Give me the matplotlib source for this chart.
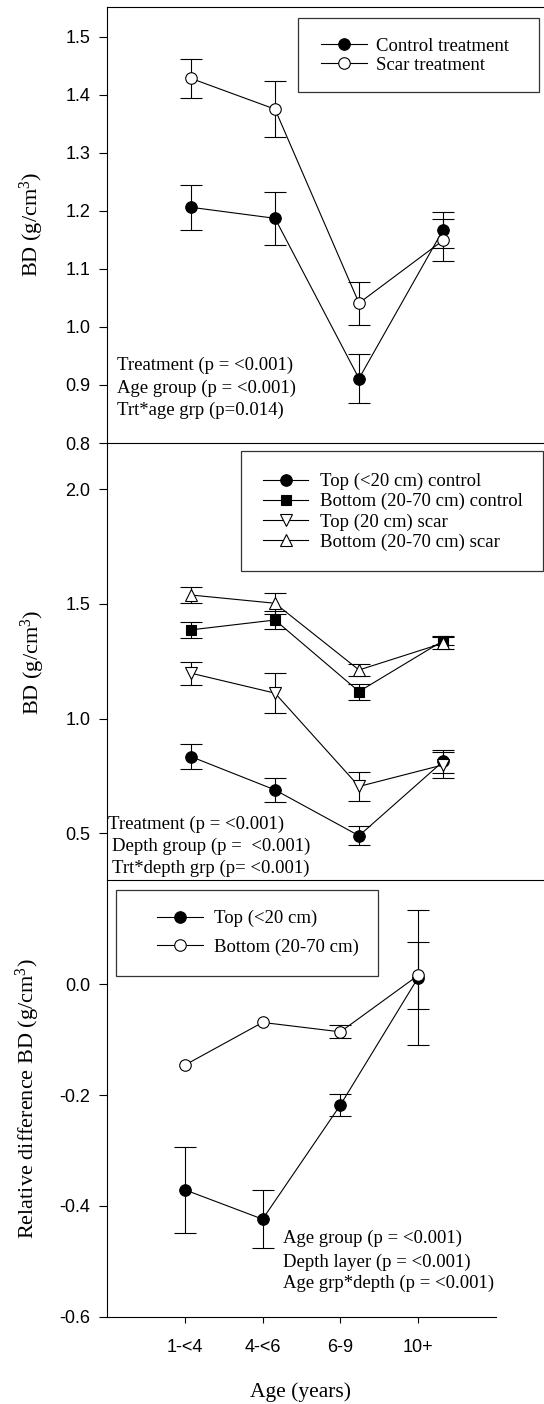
import matplotlib
matplotlib.use('Agg')
import matplotlib.pyplot as plt
import numpy as np
from matplotlib.patches import Rectangle

# dados
ages = ['1-<4', '4-<6', '6-9', '10+']
x = [1, 2, 3, 4]

control_bd = [1.206, 1.187, 0.911, 1.167]
control_se = [0.039, 0.046, 0.042, 0.031]
scar_bd = [1.428, 1.375, 1.041, 1.149]
scar_se = [0.034, 0.048, 0.037, 0.036]

top_control = [0.834, 0.689, 0.489, 0.813]
top_control_se = [0.056, 0.052, 0.042, 0.050]
bottom_control = [1.387, 1.430, 1.118, 1.339]
bottom_control_se = [0.035, 0.040, 0.035, 0.020]
top_scar = [1.198, 1.111, 0.704, 0.798]
top_scar_se = [0.050, 0.088, 0.065, 0.057]
bottom_scar = [1.539, 1.503, 1.212, 1.329]
bottom_scar_se = [0.035, 0.045, 0.025, 0.025]

rel_top = [-0.371, -0.424, -0.218, 0.012]
rel_top_se = [0.078, 0.052, 0.020, 0.122]
rel_bottom = [-0.146, -0.069, -0.086, 0.016]
rel_bottom_se = [0.0, 0.0, 0.012, 0.060]

W, H = 544, 1404
SERIF = 'Liberation Serif'
SANS = 'Liberation Sans'

plt.rcParams['mathtext.fontset'] = 'custom'
plt.rcParams['mathtext.rm'] = SERIF
plt.rcParams['mathtext.it'] = SERIF + ':italic'
plt.rcParams['mathtext.default'] = 'rm'


def fx(px):
    return px / W


def fy(py):
    return 1 - py / H


def rect(left, top, right, bottom):
    return [fx(left), fy(bottom), fx(right) - fx(left), fy(top) - fy(bottom)]


def serie(ax, y, err, marker, face, ms=8.3):
    # erro zero: sem barra nem cap
    err = np.where(np.array(err) > 0, err, np.nan)
    c = ax.errorbar(x, y, yerr=err, fmt='-', marker=marker, color='black',
                    mfc=face, mec='black', ms=ms, mew=0.8, lw=0.8,
                    elinewidth=0.8, capsize=8, capthick=0.8, clip_on=False)
    return c[0]


def estilo(ax):
    ax.set_facecolor('none')
    ax.tick_params(axis='y', direction='out', length=5.8, width=0.8, pad=6,
                   labelsize=13)
    for lab in ax.get_yticklabels():
        lab.set_fontfamily(SANS)
    ax.spines['right'].set_visible(False)
    for s in ax.spines.values():
        s.set_linewidth(0.8)


def caixa(fig, left, top, right, bottom):
    r = Rectangle((fx(left), fy(bottom)), fx(right) - fx(left), fy(top) - fy(bottom),
                  transform=fig.transFigure, fill=False, edgecolor='#333333', lw=0.9)
    fig.add_artist(r)


fig = plt.figure(figsize=(W / 100, H / 100), dpi=100)

# Painel 1
ax1 = fig.add_axes(rect(107, 7, 544, 443))
h1 = serie(ax1, control_bd, control_se, 'o', 'black')
h2 = serie(ax1, scar_bd, scar_se, 'o', 'white')
ax1.set_xlim(0, 437 / 84)
ax1.set_ylim(0.8, 1.551)
ax1.set_yticks([0.8, 0.9, 1.0, 1.1, 1.2, 1.3, 1.4, 1.5])
ax1.set_yticklabels(['0.8', '0.9', '1.0', '1.1', '1.2', '1.3', '1.4', '1.5'])
ax1.set_xticks([])
estilo(ax1)
caixa(fig, 298, 18, 539, 92)
fig.legend([h1, h2], ['Control treatment', 'Scar treatment'], loc='center left',
           bbox_to_anchor=(fx(311.7), fy(55.8)), frameon=False, borderpad=0,
           handlelength=2.45, handletextpad=0.46, labelspacing=0.1,
           prop={'family': SERIF, 'size': 13.5})
for txt, yy in zip(['Treatment (p = <0.001)', 'Age group (p = <0.001)',
                    'Trt*age grp (p=0.014)'], [365.7, 388, 410.8]):
    fig.text(fx(116.7), fy(yy), txt, ha='left', va='center', family=SERIF, size=13.5)
fig.text(fx(32), fy(224), 'BD (g/cm$^3$)', rotation=90, ha='center', va='center',
         family=SERIF, size=16)

# Painel 2
ax2 = fig.add_axes(rect(107, 443, 544, 880))
g1 = serie(ax2, top_control, top_control_se, 'o', 'black')
g2 = serie(ax2, bottom_control, bottom_control_se, 's', 'black', ms=7.5)
g3 = serie(ax2, top_scar, top_scar_se, 'v', 'white', ms=9)
g4 = serie(ax2, bottom_scar, bottom_scar_se, '^', 'white', ms=9)
ax2.set_xlim(0, 437 / 84)
ax2.set_ylim(0.296, 2.202)
ax2.set_yticks([0.5, 1.0, 1.5, 2.0])
ax2.set_yticklabels(['0.5', '1.0', '1.5', '2.0'])
ax2.set_xticks([])
ax2.spines['top'].set_visible(False)
estilo(ax2)
caixa(fig, 241, 450.5, 543, 571)
fig.legend([g1, g2, g3, g4], ['Top (<20 cm) control', 'Bottom (20-70 cm) control',
                              'Top (20 cm) scar', 'Bottom (20-70 cm) scar'],
           loc='center left', bbox_to_anchor=(fx(254), fy(511.8)), frameon=False,
           borderpad=0, handlelength=2.38, handletextpad=0.65, labelspacing=0.15,
           prop={'family': SERIF, 'size': 13.5})
for txt, xx, yy in zip(['Treatment (p = <0.001)', 'Depth group (p =  <0.001)',
                        'Trt*depth grp (p= <0.001)'], [108, 111.7, 112],
                       [824, 846, 868.3]):
    fig.text(fx(xx), fy(yy), txt, ha='left', va='center', family=SERIF, size=13.5)
fig.text(fx(33), fy(662), 'BD (g/cm$^3$)', rotation=90, ha='center', va='center',
         family=SERIF, size=16)

# Painel 3
ax3 = fig.add_axes(rect(107, 880, 496, 1316.7))
k1 = serie(ax3, rel_top, rel_top_se, 'o', 'black')
k2 = serie(ax3, rel_bottom, rel_bottom_se, 'o', 'white')
ax3.set_xlim(0, 5)
ax3.set_ylim(-0.6, 0.188)
ax3.set_yticks([-0.6, -0.4, -0.2, 0.0])
ax3.set_yticklabels(['-0.6', '-0.4', '-0.2', '0.0'])
ax3.set_xticks(x)
ax3.set_xticklabels(ages, family=SANS, size=13)
ax3.tick_params(axis='x', direction='out', length=4.3, width=0.8, pad=12)
ax3.spines['top'].set_visible(False)
estilo(ax3)
caixa(fig, 115.7, 890, 377.7, 975.7)
fig.legend([k1, k2], ['Top (<20 cm)', 'Bottom (20-70 cm)'], loc='center left',
           bbox_to_anchor=(fx(148), fy(933)), frameon=False, borderpad=0,
           handlelength=2.43, handletextpad=0.6, labelspacing=0.6,
           prop={'family': SERIF, 'size': 13.5})
for txt, yy in zip(['Age group (p = <0.001)', 'Depth layer (p = <0.001)',
                    'Age grp*depth (p = <0.001)'], [1238.3, 1262.3, 1283.3]):
    fig.text(fx(282.7), fy(yy), txt, ha='left', va='center', family=SERIF, size=13.5)
fig.text(fx(27.5), fy(1099), 'Relative difference BD (g/cm$^3$)', rotation=90,
         ha='center', va='center', family=SERIF, size=16)
fig.text(fx(301), fy(1392), 'Age (years)', ha='center', va='center', family=SERIF,
         size=15.5)

fig.savefig('out.png', dpi=100, facecolor='white')
